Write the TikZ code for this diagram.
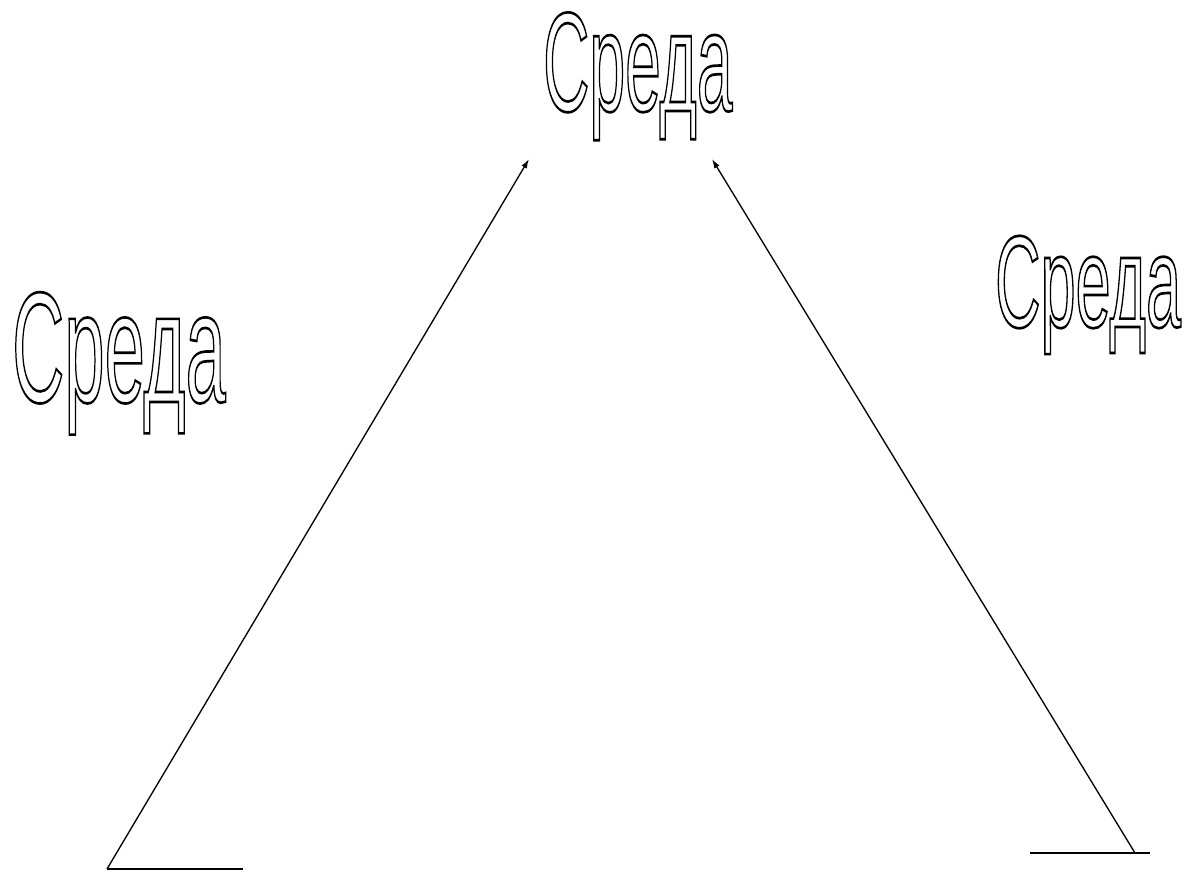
\documentclass[tikz,border=0pt]{standalone}
\usepackage{fontspec}
\setmainfont{Liberation Sans}
\usetikzlibrary{arrows.meta, positioning}

% outlined letters (text render mode 1)
\newcommand{\hollow}[1]{\special{pdf:literal direct 1 Tr 2 w}#1\special{pdf:literal direct 0 Tr 0.4 w}}

\begin{document}
\begin{tikzpicture}[x=0.75pt, y=-0.75pt,
    wordart/.style={inner sep=0pt, anchor=base west},
    arrowline/.style={line width=1pt, -{Latex[length=7pt, width=4.5pt]}},
    baseline/.style={line width=1.2pt}]
        \useasboundingbox (0,0) rectangle (1195,871);

        \coordinate (lfoot) at (107,869);
        \coordinate (lend) at (243,869);
        \coordinate (rfoot) at (1135,853);
        \coordinate (rstart) at (1030,853);
        \coordinate (rend) at (1150,853);
        \coordinate (ltip) at (529,159);
        \coordinate (rtip) at (712,159);

        \draw[baseline] (lfoot) to (lend)
            (rstart) to (rend);
        \draw[arrowline] (lfoot) to (ltip);
        \draw[arrowline] (rfoot) to (rtip);

        \node[wordart, xscale=0.454] (top) at (543,111) {\fontsize{106}{106}\selectfont\hollow{Среда}};
        \node[wordart, xscale=0.460] (left) at (12,402) {\fontsize{118}{118}\selectfont\hollow{Среда}};
        \node[wordart, xscale=0.482] (right) at (995,327) {\fontsize{98}{98}\selectfont\hollow{Среда}};
\end{tikzpicture}
\end{document}
